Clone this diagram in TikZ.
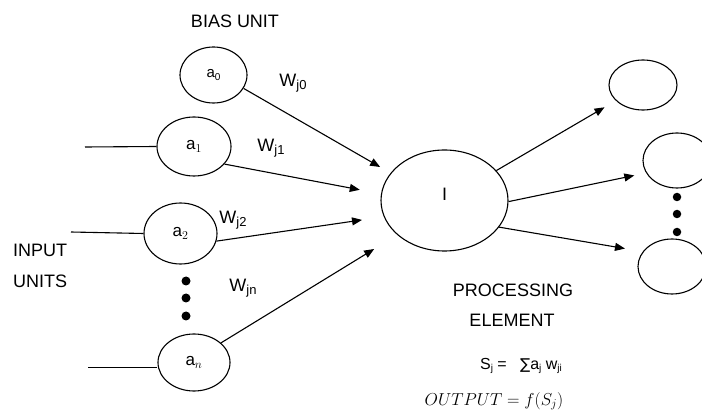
\documentclass[tikz,border=0pt]{standalone}
\usepackage{fontspec}
\setmainfont{Liberation Sans}
\newfontfamily\symfont{DejaVu Sans}
\usetikzlibrary{shapes.geometric,arrows.meta}
\newcommand\sbs[2][13]{\raisebox{-0.15em}{\fontsize{#1}{#1}\selectfont #2}}
\tikzset{
  unit/.style={draw, ellipse, line width=1.1pt, inner sep=0pt, font=\fontsize{17}{18}\selectfont},
  conn/.style={line width=1.1pt, -{Triangle[length=10pt,width=8pt]}},
  plain/.style={line width=1.1pt},
  dotl/.style={circle, fill, inner sep=0pt, minimum size=9pt},
  dotr/.style={circle, fill, inner sep=0pt, minimum size=8.5pt},
  lbl/.style={font=\fontsize{18}{20}\selectfont, inner sep=0pt},
}
\begin{document}
\begin{tikzpicture}[x=1pt,y=-1pt]
\clip (0,0) rectangle (702,414);
\fill[white] (0,0) rectangle (702,414);
% input units
\node[unit, minimum width=67pt, minimum height=56pt] (a0) at (213.5,75) {\fontsize{15}{16}\selectfont a\sbs[10]{0}};
\node[unit, minimum width=74pt, minimum height=59pt] (a1) at (194,146.5) {$\mathrm{a}_1$};
\node[unit, minimum width=73pt, minimum height=61pt] (a2) at (180.5,233.5) {$\mathrm{a}_2$};
\node[unit, minimum width=72pt, minimum height=57pt] (an) at (194,362.5) {$\mathrm{a}_n$};
% processing element
\node[unit, minimum width=127pt, minimum height=101pt] (I) at (444.5,200.5) {};
\node[lbl] (Ilab) at (444.5,194) {I};
% outputs
\node[unit, minimum width=68pt, minimum height=50pt] (o1) at (643,85) {};
\node[unit, minimum width=68pt, minimum height=55pt] (o2) at (677,160.5) {};
\node[unit, minimum width=68pt, minimum height=55pt] (o3) at (672,266.5) {};
% input lines
\coordinate (in1) at (85,147);
\coordinate (in2) at (71,232);
\coordinate (inn) at (88,367.5);
\draw[plain] (in1) -- (a1.west);
\draw[plain] (in2) -- (a2.west);
\draw[plain] (inn) -- (inn -| an.west);
% connectors
\draw[conn, shorten >=12pt] (a0.-24) -- (I.153);
\draw[conn, shorten >=21.6pt] (a1.-30) -- (I.174);
\draw[conn, shorten >=22pt] (a2.-12) -- (I.-165);
\draw[conn, shorten >=27pt] (an.36) -- (I.-144.5);
\draw[conn, shorten >=13pt] (I.30) -- (o1.210);
\draw[conn, shorten >=12pt] (I.-1) -- (o2.202.5);
\draw[conn, shorten >=18pt] (I.-26) -- (o3.153.4);
% dots
\node[dotl] (dl1) at (186,281) {};
\node[dotl] (dl2) at (186,298) {};
\node[dotl] (dl3) at (186,316) {};
\node[dotr] (dr1) at (677,197) {};
\node[dotr] (dr2) at (677,214) {};
\node[dotr] (dr3) at (677,232) {};
% labels
\node[lbl] (bias) at (235,21) {BIAS UNIT};
\node[lbl] (w0) at (293,83) {W\sbs{j0}};
\node[lbl] (w1) at (271,148) {W\sbs{j1}};
\node[lbl] (w2) at (233,220) {W\sbs{j2}};
\node[lbl] (wn) at (243,288) {W\sbs{jn}};
\node[lbl, anchor=west] (inp) at (13,250) {INPUT};
\node[lbl, anchor=west] (uni) at (13,281) {UNITS};
\node[lbl] (proc) at (513,290) {PROCESSING};
\node[lbl] (elem) at (512,320) {ELEMENT};
\node[inner sep=0pt, font=\fontsize{16}{17}\selectfont] (sum) at (521,366)
  {S\sbs[10]{j} =\ \ \ {\symfont\fontsize{15}{16}\selectfont ∑}a\sbs[10]{j} w\sbs[10]{ji}};
\node[inner sep=0pt, font=\fontsize{17}{18}\selectfont] (out) at (494,401) {$OUTPUT = f(S_j)$};
\end{tikzpicture}
\end{document}
